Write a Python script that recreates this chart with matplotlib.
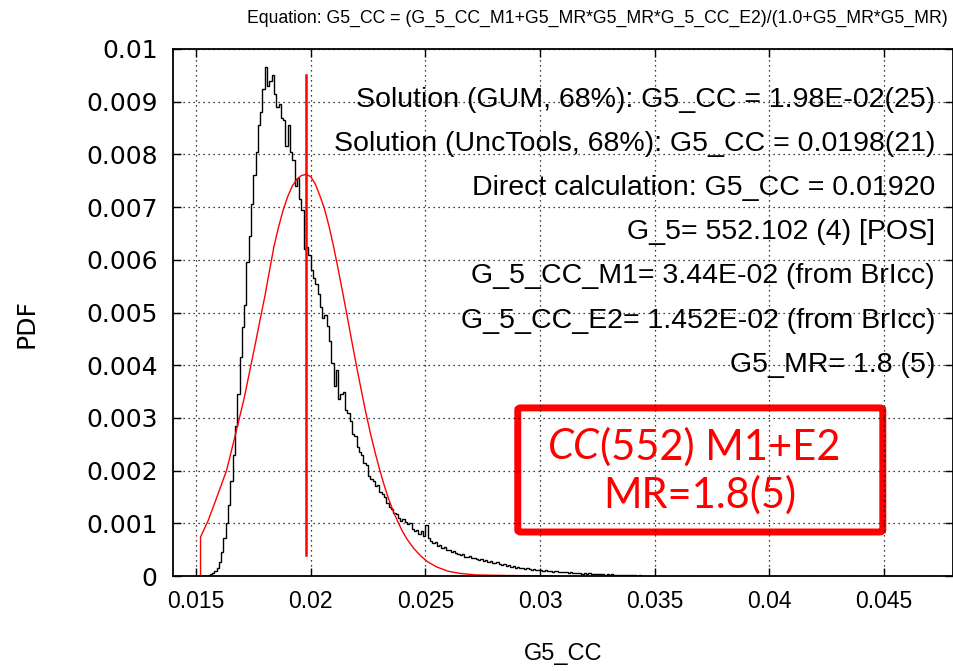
import numpy as np
import matplotlib
matplotlib.use('Agg')
import matplotlib.pyplot as plt
from matplotlib.patches import FancyBboxPatch

# Monte Carlo histogram of G5_CC (bin width 0.0001 starting at 0.0155), PDF values in units of 1e-3
hist_start=0.0155
hist_width=0.0001
hist_pdf_milli=[
0.00,0.03,0.05,0.09,0.15,0.26,0.45,0.72,1.00,1.35,
1.80,2.30,2.85,3.45,4.15,4.72,5.15,5.95,6.45,7.05,
7.60,8.05,8.55,8.80,9.25,9.65,9.30,9.40,9.50,9.15,
8.90,8.95,8.70,8.65,8.15,8.55,8.05,7.90,7.40,7.55,
7.15,6.95,6.20,6.25,6.10,5.80,5.65,5.55,5.35,5.10,
4.90,4.95,4.75,4.45,4.05,3.60,3.90,3.35,3.45,3.50,
3.15,3.10,2.95,2.70,2.65,2.45,2.35,2.30,2.15,2.10,
1.90,1.85,1.80,1.70,1.72,1.60,1.55,1.50,1.38,1.30,
1.28,1.20,1.18,1.10,1.05,1.08,1.02,0.98,1.00,0.90,
0.86,0.88,0.80,0.85,0.76,0.97,0.72,0.66,0.62,0.64,
0.56,0.58,0.53,0.55,0.49,0.50,0.46,0.48,0.43,0.41,
0.40,0.42,0.37,0.36,0.38,0.34,0.35,0.33,0.31,0.33,
0.29,0.30,0.27,0.28,0.25,0.24,0.26,0.22,0.21,0.23,
0.19,0.20,0.18,0.19,0.16,0.17,0.15,0.16,0.14,0.15,
0.13,0.12,0.14,0.11,0.12,0.11,0.10,0.11,0.09,0.10,
0.08,0.09,0.10,0.08,0.07,0.08,0.07,0.06,0.07,0.05,
0.06,0.05,0.06,0.04,0.05,0.04,0.05,0.04,0.03,0.04,
0.03,0.04,0.03,0.02,0.03,0.02,0.03,0.02,0.02,0.01,
0.02,0.01,0.01,0.02,0.01,0.01,0.01,0.00,0.01,0.00,
0.00]

# GUM gaussian (red curve)
gum_x=[0.0152,0.0152,0.01554,0.0160,0.01634,0.01677,0.0171,0.01735,0.01760,0.01779,
       0.0180,0.0182,0.0184,0.0186,0.0188,0.0190,0.0192,0.0194,0.0196,0.0198,
       0.0200,0.0202,0.0204,0.0206,0.0208,0.0210,0.0212,0.0214,0.0216,0.0218,
       0.0220,0.0222,0.0224,0.0226,0.0228,0.0230,0.0232,0.0234,0.0236,0.0238,
       0.0240,0.0242,0.0245,0.0248,0.0251,0.0255,0.0260,0.0265,0.0272,0.0285,0.0305]
gum_y=[0.0,0.00074,0.00106,0.00160,0.00201,0.00277,0.00337,0.00390,0.00443,0.00485,
       0.00530,0.00578,0.00625,0.00662,0.00694,0.00720,0.00740,0.00753,0.00760,0.00762,
       0.00758,0.00744,0.00722,0.00697,0.00664,0.00625,0.00582,0.00537,0.00491,0.00444,
       0.00398,0.00354,0.00311,0.00272,0.00236,0.00203,0.00173,0.00146,0.00123,0.00103,
       0.00085,0.00070,0.00052,0.00038,0.00027,0.00017,0.00009,0.00005,0.00002,0.00001,0.0]

gum_value=0.0198
gum_line_y=[0.0004,0.0095]

info_lines=['Solution (GUM, 68%): G5_CC = 1.98E-02(25)',
            'Solution (UncTools, 68%): G5_CC = 0.0198(21)',
            'Direct calculation: G5_CC = 0.01920',
            'G_5= 552.102 (4) [POS]',
            'G_5_CC_M1= 3.44E-02 (from BrIcc)',
            'G_5_CC_E2= 1.452E-02 (from BrIcc)',
            'G5_MR= 1.8 (5)']
info_y=[0.903,0.820,0.736,0.653,0.569,0.483,0.400]

xticks=[0.015,0.02,0.025,0.03,0.035,0.04,0.045]
xtick_labels=['0.015','0.02','0.025','0.03','0.035','0.04','0.045']
yticks=[0,0.001,0.002,0.003,0.004,0.005,0.006,0.007,0.008,0.009,0.01]
ytick_labels=['0','0.001','0.002','0.003','0.004','0.005','0.006','0.007','0.008','0.009','0.01']

fig=plt.figure(figsize=(9.54,6.71),dpi=100)
ax=fig.add_axes([173/954,1-576/671,780/954,527/671])

edges=hist_start+hist_width*np.arange(len(hist_pdf_milli)+1)
ax.stairs(np.array(hist_pdf_milli)/1000.0,edges,color='black',lw=1.0,baseline=0)
ax.plot(gum_x,gum_y,color='red',lw=1.0)
ax.plot([gum_value,gum_value],gum_line_y,color='red',lw=1.8)

ax.set_xlim(0.014,0.048)
ax.set_ylim(0,0.01)
ax.set_xticks(xticks)
ax.set_xticklabels(xtick_labels,family='Liberation Sans',fontsize=16.5)
ax.set_yticks(yticks)
ax.set_yticklabels(ytick_labels,family='DejaVu Sans',fontsize=18)
ax.tick_params(direction='in',length=6,width=1,top=True,right=True)
ax.tick_params(axis='y',pad=11)
ax.tick_params(axis='x',pad=10)
ax.grid(True,color='black',linestyle=(0,(1,3)),lw=0.9)
for s in ax.spines.values():
    s.set_linewidth(1.3)

ax.set_xlabel('G5_CC',family='Liberation Sans',fontsize=17,labelpad=22)
fig.text(27/954,1-323/671,'PDF',rotation=90,ha='center',va='center',family='DejaVu Sans',fontsize=18)
fig.text(948/954,1-18/671,'Equation: G5_CC = (G_5_CC_M1+G5_MR*G5_MR*G_5_CC_E2)/(1.0+G5_MR*G5_MR)',
         ha='right',va='center',family='Liberation Sans',fontsize=12.7)

for t,yy in zip(info_lines,info_y):
    ax.text(0.977,yy,t,transform=ax.transAxes,ha='right',va='center',family='Liberation Sans',fontsize=20.5)

# red label box
box=FancyBboxPatch((0.442,0.0835),0.468,0.2355,boxstyle='round,pad=0,rounding_size=0.004',
                   transform=ax.transAxes,fill=False,edgecolor='red',lw=5)
ax.add_patch(box)
ax.text(0.547,0.245,'CC',transform=ax.transAxes,ha='right',va='center',color='red',
        family='Lato',style='italic',fontsize=30)
ax.text(0.547,0.245,'(552) M1+E2',transform=ax.transAxes,ha='left',va='center',color='red',
        family='Lato',fontsize=30)
ax.text(0.676,0.154,'MR=1.8(5)',transform=ax.transAxes,ha='center',va='center',color='red',
        family='Lato',fontsize=30)

fig.savefig('out.png',dpi=100)
